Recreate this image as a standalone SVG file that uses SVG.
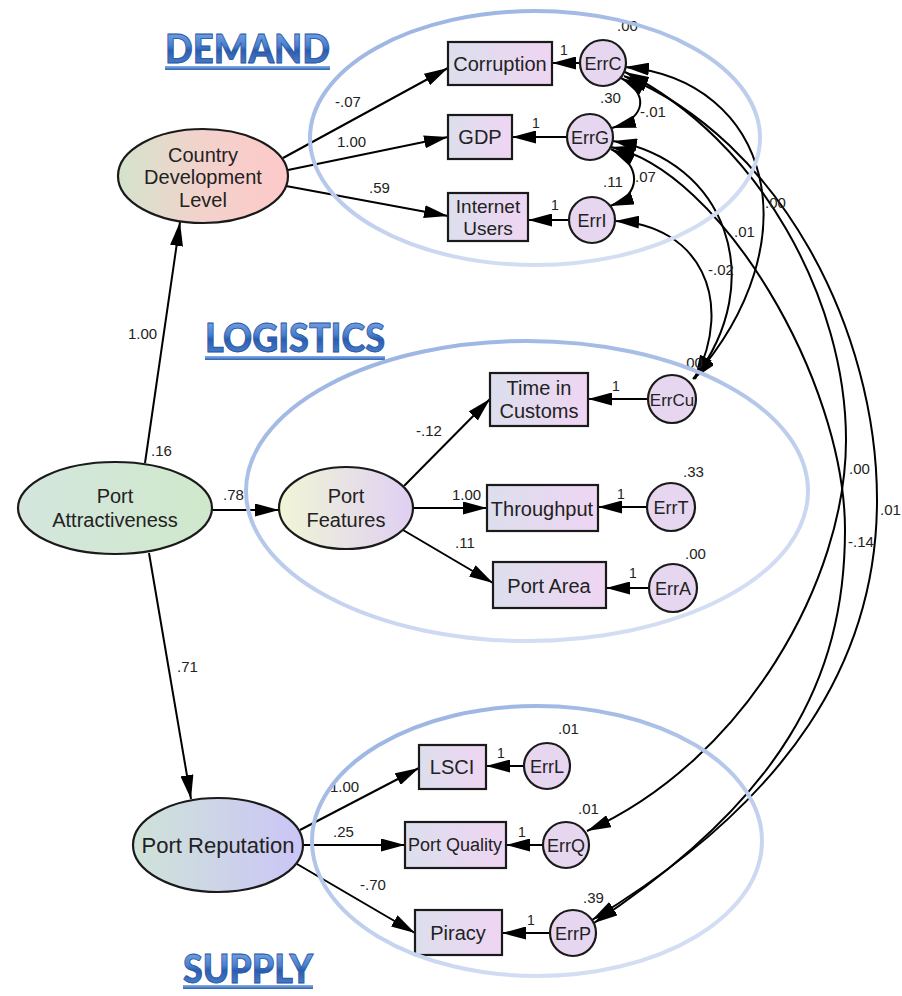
<svg xmlns="http://www.w3.org/2000/svg" xmlns:xlink="http://www.w3.org/1999/xlink" width="902" height="996" viewBox="0 0 902 996">
<defs>
<style>
.lbl{font-family:"Liberation Sans",Arial,sans-serif;fill:#222;}
.node{font-size:20px;text-anchor:middle;}
.err{font-size:18px;text-anchor:middle;}
.num{font-size:15px;}
.one{font-size:14px;}
.ln{stroke:#000;stroke-width:2;fill:none;marker-end:url(#ah);}
.cov{stroke:#000;stroke-width:2;fill:none;marker-start:url(#ah);marker-end:url(#ah);}
.nd{stroke:#1a1a1a;stroke-width:2.2;}
.grp{fill:none;stroke:url(#gStroke);stroke-width:4;}
.wa{font-family:Lato,"Open Sans","Liberation Sans",sans-serif;font-weight:900;font-size:40px;fill:url(#gWord);stroke:#24529c;stroke-width:0.8;}
.bar{fill:url(#gBar);}
</style>
<marker id="ah" viewBox="0 0 24 13" refX="24" refY="6.5" markerWidth="24" markerHeight="13" markerUnits="userSpaceOnUse" orient="auto-start-reverse">
<path d="M0,0 L24,6.5 L0,13 z" fill="#000"/>
</marker>
<linearGradient id="gStroke" x1="0" y1="0" x2="0.5" y2="1">
<stop offset="0" stop-color="#94afe0"/>
<stop offset="1" stop-color="#d3def3"/>
</linearGradient>
<linearGradient id="gWord" x1="0" y1="0" x2="0" y2="1">
<stop offset="0" stop-color="#8cb6f0"/>
<stop offset="0.45" stop-color="#4a7fd0"/>
<stop offset="0.55" stop-color="#2a5dae"/>
<stop offset="1" stop-color="#5a8fdc"/>
</linearGradient>
<linearGradient id="gBar" x1="0" y1="0" x2="0" y2="1">
<stop offset="0" stop-color="#8ab2ea"/>
<stop offset="1" stop-color="#2f62b2"/>
</linearGradient>
<linearGradient id="gCDL" x1="0" y1="0" x2="1" y2="0">
<stop offset="0" stop-color="#d4e3cb"/>
<stop offset="0.5" stop-color="#f3d2cc"/>
<stop offset="1" stop-color="#fdc9c9"/>
</linearGradient>
<linearGradient id="gPA" x1="0" y1="0" x2="1" y2="0">
<stop offset="0" stop-color="#d4e6de"/>
<stop offset="1" stop-color="#cfe8cb"/>
</linearGradient>
<linearGradient id="gPF" x1="0" y1="0" x2="1" y2="0">
<stop offset="0" stop-color="#f1f6d6"/>
<stop offset="1" stop-color="#dfcff3"/>
</linearGradient>
<linearGradient id="gPR" x1="0" y1="0" x2="1" y2="0">
<stop offset="0" stop-color="#cfe3d8"/>
<stop offset="1" stop-color="#cbc5f7"/>
</linearGradient>
<linearGradient id="gRect" x1="0" y1="0" x2="1" y2="0">
<stop offset="0" stop-color="#dcdfed"/>
<stop offset="1" stop-color="#efd5f2"/>
</linearGradient>
</defs>
<rect width="902" height="996" fill="#fff"/>

<!-- headings -->
<g id="heading-demand">
<text class="wa" x="165" y="63" textLength="165" lengthAdjust="spacingAndGlyphs">DEMAND</text>
<rect class="bar" x="165" y="66" width="165" height="4"/>
</g>
<g id="heading-logistics">
<text class="wa" x="205" y="352" textLength="180" lengthAdjust="spacingAndGlyphs">LOGISTICS</text>
<rect class="bar" x="205" y="356" width="180" height="4"/>
</g>
<g id="heading-supply">
<text class="wa" x="183" y="983" textLength="130" lengthAdjust="spacingAndGlyphs">SUPPLY</text>
<rect class="bar" x="183" y="985" width="130" height="4"/>
</g>

<!-- connectors -->
<g id="connectors">
<path class="ln" d="M283,158 L448,68"/>
<path class="ln" d="M288,170 L448,137"/>
<path class="ln" d="M286,186 L448,216"/>
<path class="ln" d="M145,463 L180,222"/>
<path class="ln" d="M212,510 L279,510"/>
<path class="ln" d="M149,553 L191,799"/>
<path class="ln" d="M404,486 L490,399"/>
<path class="ln" d="M413,508 L487,508"/>
<path class="ln" d="M403,530 L493,583"/>
<path class="ln" d="M300,830 L419,768"/>
<path class="ln" d="M303,845 L405,845"/>
<path class="ln" d="M297,864 L415,933"/>
<path class="ln" d="M580,63 L552,63"/>
<path class="ln" d="M567,137 L512,137"/>
<path class="ln" d="M569,220 L528,220"/>
<path class="ln" d="M648,399 L588,399"/>
<path class="ln" d="M647,507 L598,507"/>
<path class="ln" d="M649,588 L606,588"/>
<path class="ln" d="M524,766 L486,766"/>
<path class="ln" d="M543,845 L506,845"/>
<path class="ln" d="M550,933 L502,933"/>
<path class="cov" d="M621,78 C648,92 648,118 612,128"/>
<path class="cov" d="M611,149 C642,165 642,195 610,206"/>
<path class="cov" d="M625,67 C770,80 815,240 693,379"/>
<path class="cov" d="M613,141 C725,160 770,280 694,379"/>
<path class="cov" d="M615,221 C700,225 735,300 695,379"/>
<path class="cov" d="M625,72 C760,140 846,300 846,440 C846,580 745,760 587,831"/>
<path class="cov" d="M624,76 C780,140 877,330 877,500 C877,660 790,800 592,920"/>
<path class="cov" d="M611,147 C720,170 845,380 845,530 C845,680 780,800 594,923"/>
</g>

<!-- latent nodes -->
<g id="node-cdl">
<ellipse class="nd" cx="203" cy="176" rx="85" ry="47" fill="url(#gCDL)"/>
<text class="lbl node" x="203" y="162">Country</text>
<text class="lbl node" x="203" y="184">Development</text>
<text class="lbl node" x="203" y="207">Level</text>
</g>
<g id="node-pa">
<ellipse class="nd" cx="115" cy="508" rx="97" ry="46" fill="url(#gPA)"/>
<text class="lbl node" x="115" y="503">Port</text>
<text class="lbl node" x="115" y="527">Attractiveness</text>
</g>
<g id="node-pf">
<ellipse class="nd" cx="346" cy="508" rx="67" ry="41" fill="url(#gPF)"/>
<text class="lbl node" x="346" y="503">Port</text>
<text class="lbl node" x="346" y="527">Features</text>
</g>
<g id="node-pr">
<ellipse class="nd" cx="218" cy="845" rx="85" ry="47" fill="url(#gPR)"/>
<text class="lbl node" x="218" y="853" style="font-size:22px">Port Reputation</text>
</g>

<!-- observed nodes -->
<g id="node-corruption">
<rect class="nd" x="448" y="42" width="104" height="43" fill="url(#gRect)"/>
<text class="lbl node" x="500" y="71">Corruption</text>
</g>
<g id="node-gdp">
<rect class="nd" x="448" y="115" width="64" height="44" fill="url(#gRect)"/>
<text class="lbl node" x="480" y="144">GDP</text>
</g>
<g id="node-internet">
<rect class="nd" x="448" y="193" width="80" height="48" fill="url(#gRect)"/>
<text class="lbl node" x="488" y="213" style="font-size:19px">Internet</text>
<text class="lbl node" x="488" y="235" style="font-size:19px">Users</text>
</g>
<g id="node-customs">
<rect class="nd" x="490" y="373" width="98" height="53" fill="url(#gRect)"/>
<text class="lbl node" x="539" y="395">Time in</text>
<text class="lbl node" x="539" y="418">Customs</text>
</g>
<g id="node-throughput">
<rect class="nd" x="487" y="485" width="111" height="46" fill="url(#gRect)"/>
<text class="lbl node" x="542" y="516">Throughput</text>
</g>
<g id="node-portarea">
<rect class="nd" x="493" y="562" width="113" height="46" fill="url(#gRect)"/>
<text class="lbl node" x="549" y="593">Port Area</text>
</g>
<g id="node-lsci">
<rect class="nd" x="419" y="745" width="67" height="44" fill="url(#gRect)"/>
<text class="lbl node" x="452" y="774">LSCI</text>
</g>
<g id="node-portquality">
<rect class="nd" x="405" y="822" width="101" height="46" fill="url(#gRect)"/>
<text class="lbl node" x="455" y="851" style="font-size:18px">Port Quality</text>
</g>
<g id="node-piracy">
<rect class="nd" x="415" y="910" width="87" height="45" fill="url(#gRect)"/>
<text class="lbl node" x="458" y="940">Piracy</text>
</g>

<!-- error nodes -->
<g id="node-errc"><circle class="nd" cx="603" cy="63" r="23" fill="#e6d6ef"/><text class="lbl err" x="603" y="70">ErrC</text></g>
<g id="node-errg"><circle class="nd" cx="590" cy="137" r="23" fill="#e6d6ef"/><text class="lbl err" x="590" y="144">ErrG</text></g>
<g id="node-erri"><circle class="nd" cx="592" cy="220" r="23" fill="#e6d6ef"/><text class="lbl err" x="592" y="227">ErrI</text></g>
<g id="node-errcu"><circle class="nd" cx="672" cy="399" r="24" fill="#e6d6ef"/><text class="lbl err" x="672" y="406" style="font-size:17px">ErrCu</text></g>
<g id="node-errt"><circle class="nd" cx="671" cy="507" r="24" fill="#e6d6ef"/><text class="lbl err" x="671" y="514">ErrT</text></g>
<g id="node-erra"><circle class="nd" cx="673" cy="588" r="24" fill="#e6d6ef"/><text class="lbl err" x="673" y="595">ErrA</text></g>
<g id="node-errl"><circle class="nd" cx="547" cy="766" r="23" fill="#e6d6ef"/><text class="lbl err" x="547" y="773">ErrL</text></g>
<g id="node-errq"><circle class="nd" cx="566" cy="845" r="23" fill="#e6d6ef"/><text class="lbl err" x="566" y="852">ErrQ</text></g>
<g id="node-errp"><circle class="nd" cx="573" cy="933" r="23" fill="#e6d6ef"/><text class="lbl err" x="573" y="940">ErrP</text></g>

<!-- labels -->
<g id="labels" class="lbl num">
<text x="335" y="107">-.07</text>
<text x="337" y="147">1.00</text>
<text x="369" y="193">.59</text>
<text x="128" y="339">1.00</text>
<text x="151" y="456">.16</text>
<text x="223" y="500">.78</text>
<text x="416" y="436">-.12</text>
<text x="452" y="500">1.00</text>
<text x="455" y="548">.11</text>
<text x="177" y="672">.71</text>
<text x="330" y="792">1.00</text>
<text x="333" y="837">.25</text>
<text x="360" y="890">-.70</text>
<text x="617" y="31">.00</text>
<text x="600" y="103">.30</text>
<text x="640" y="117">-.01</text>
<text x="603" y="187">.11</text>
<text x="635" y="182">.07</text>
<text x="765" y="208">.00</text>
<text x="734" y="237">.01</text>
<text x="708" y="275">-.02</text>
<text x="849" y="474">.00</text>
<text x="880" y="515">.01</text>
<text x="848" y="547">-.14</text>
<text x="682" y="368">.00</text>
<text x="683" y="477">.33</text>
<text x="685" y="559">.00</text>
<text x="558" y="734">.01</text>
<text x="578" y="814">.01</text>
<text x="583" y="903">.39</text>
<text class="one" x="560" y="55">1</text>
<text class="one" x="532" y="128">1</text>
<text class="one" x="551" y="210">1</text>
<text class="one" x="612" y="391">1</text>
<text class="one" x="617" y="499">1</text>
<text class="one" x="629" y="578">1</text>
<text class="one" x="497" y="758">1</text>
<text class="one" x="518" y="837">1</text>
<text class="one" x="527" y="925">1</text>
</g>

<!-- grouping ellipses -->
<g id="groups">
<ellipse class="grp" cx="535" cy="138" rx="225" ry="127"/>
<ellipse class="grp" cx="527" cy="491" rx="281" ry="150"/>
<ellipse class="grp" cx="537" cy="841" rx="225" ry="135"/>
</g>
</svg>
